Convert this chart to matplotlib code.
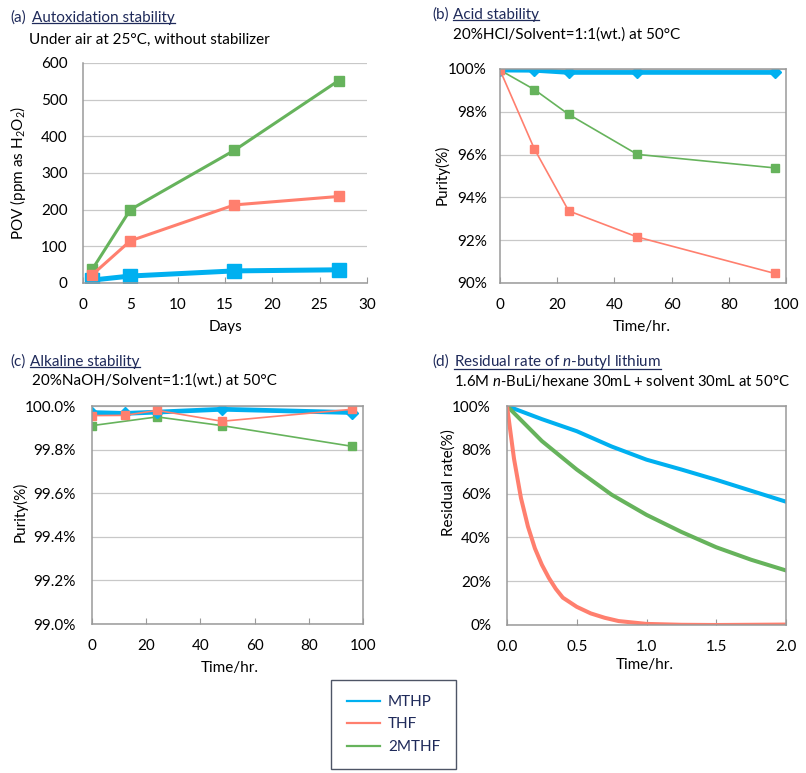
import matplotlib
matplotlib.use("Agg")
import matplotlib.pyplot as plt
from matplotlib.lines import Line2D
from matplotlib.ticker import PercentFormatter, MultipleLocator

plt.rcParams.update({
    "font.family": ["Lato", "DejaVu Sans"],
    "font.size": 10.5,
    "mathtext.fontset": "custom",
    "mathtext.rm": "Lato",
    "mathtext.it": "Lato:italic",
    "mathtext.bf": "Lato:bold",
})

W, H = 806, 773
NAVY = "#1F2A5A"
BLUE = "#00B0F0"
RED = "#FF7F6E"
GREEN = "#66B35C"
GRID = "#C8C8C8"
SPINE = "#9A9A9A"

# (a) autoxidation, POV in ppm
days = [1, 5, 16, 27]
pov_mthp = [8, 19, 33, 36]
pov_thf = [23, 115, 213, 236]
pov_2mthf = [38, 200, 362, 552]

# (b) acid stability, purity %
acid_t = [0, 12, 24, 48, 96]
acid_mthp = [99.95, 99.94, 99.84, 99.84, 99.84]
acid_thf = [99.95, 96.27, 93.37, 92.15, 90.45]
acid_2mthf = [99.95, 99.04, 97.88, 96.01, 95.38]

# (c) alkaline stability, purity %
alk_t = [0, 12, 24, 48, 96]
alk_mthp = [99.970, 99.966, 99.972, 99.985, 99.970]
alk_thf = [99.956, 99.957, 99.980, 99.930, 99.985]
alk_2mthf_t = [0, 24, 48, 96]
alk_2mthf = [99.910, 99.950, 99.910, 99.815]

# (d) residual rate of n-BuLi, %
bu_t = [0, 0.25, 0.5, 0.75, 1.0, 1.25, 1.5, 1.75, 2.0]
bu_mthp = [100, 94, 88.5, 81.5, 75.5, 71, 66.3, 61.3, 56.3]
bu_2mthf = [100, 84, 71, 59.5, 50.3, 42.5, 35.5, 29.8, 24.9]
bu_thf_t = [0, 0.05, 0.1, 0.15, 0.2, 0.25, 0.3, 0.35, 0.4, 0.5, 0.6, 0.7, 0.8, 1.0, 1.25, 1.5, 2.0]
bu_thf = [100, 76, 58, 45, 35, 27.5, 21.5, 16.5, 12.5, 8.3, 5.3, 3.3, 1.8, 0.5, 0.1, 0.0, 0.2]

fig = plt.figure(figsize=(W / 100, H / 100), dpi=100)


def add_axes(left, top, right, bottom):
    return fig.add_axes([left / W, 1 - bottom / H, (right - left) / W, (bottom - top) / H])


def style(ax, ypad, xpad=11, right_spine=True):
    ax.grid(axis="y", color=GRID, lw=0.9)
    ax.set_axisbelow(True)
    for s in ax.spines.values():
        s.set_color(SPINE)
        s.set_linewidth(1.1)
    if not right_spine:
        ax.spines["right"].set_visible(False)
        ax.spines["top"].set_visible(False)
    ax.tick_params(axis="y", length=0, pad=ypad, labelsize=11)
    ax.tick_params(axis="x", direction="in", length=4, color=SPINE, pad=xpad, labelsize=11)


def ftext(x, y, s, **kw):
    return fig.text(x / W, 1 - y / H, s, **kw)


titles = []


def title(x_pre, x_main, y, prefix, main):
    ftext(x_pre, y, prefix, color=NAVY, fontsize=11, va="center")
    t = ftext(x_main, y, main, color=NAVY, fontsize=11, va="center")
    titles.append(t)


# (a)
ax = add_axes(83, 63, 367, 283)
ax.plot(days, pov_2mthf, color=GREEN, lw=2.2, marker="s", ms=6.5)
ax.plot(days, pov_mthp, color=BLUE, lw=3.6, marker="s", ms=10)
ax.plot(days, pov_thf, color=RED, lw=2.2, marker="s", ms=6.5)
ax.set_xlim(0, 30)
ax.set_ylim(0, 600)
ax.yaxis.set_major_locator(MultipleLocator(100))
ax.xaxis.set_major_locator(MultipleLocator(5))
style(ax, ypad=11, right_spine=False)
title(10, 32, 18, "(a)", "Autoxidation stability")
ftext(29, 40, "Under air at 25°C, without stabilizer", fontsize=11, va="center")
ftext(18, 173, "POV (ppm as H$_2$O$_2$)", rotation=90, ha="center", va="center", fontsize=11)
ftext(225, 327, "Days", ha="center", va="center", fontsize=11)

# (b)
ax = add_axes(500, 69, 786, 283)
ax.plot(acid_t, acid_2mthf, color=GREEN, lw=1.2, marker="s", ms=6)
ax.plot(acid_t, acid_mthp, color=BLUE, lw=3.4, marker="D", ms=6.5)
ax.plot(acid_t, acid_thf, color=RED, lw=1.2, marker="s", ms=6)
ax.set_xlim(0, 100)
ax.set_ylim(90, 100)
ax.yaxis.set_major_locator(MultipleLocator(2))
ax.yaxis.set_major_formatter(PercentFormatter(decimals=0))
ax.xaxis.set_major_locator(MultipleLocator(20))
style(ax, ypad=9.5)
title(432, 453, 15, "(b)", "Acid stability")
ftext(453, 35, "20%HCl/Solvent=1:1(wt.) at 50°C", fontsize=11, va="center")
ftext(442, 175, "Purity(%)", rotation=90, ha="center", va="center", fontsize=11)
ftext(642, 327, "Time/hr.", ha="center", va="center", fontsize=11)

# (c)
ax = add_axes(92, 406, 363, 624)
ax.plot(alk_2mthf_t, alk_2mthf, color=GREEN, lw=1.2, marker="s", ms=6)
ax.plot(alk_t, alk_mthp, color=BLUE, lw=3.4, marker="D", ms=6.5)
ax.plot(alk_t, alk_thf, color=RED, lw=1.2, marker="s", ms=6)
ax.set_xlim(0, 100)
ax.set_ylim(99.0, 100.0)
ax.yaxis.set_major_locator(MultipleLocator(0.2))
ax.yaxis.set_major_formatter(PercentFormatter(decimals=1))
ax.xaxis.set_major_locator(MultipleLocator(20))
style(ax, ypad=11.5)
title(10, 30, 362, "(c)", "Alkaline stability")
ftext(32, 381, "20%NaOH/Solvent=1:1(wt.) at 50°C", fontsize=11, va="center")
ftext(20, 512, "Purity(%)", rotation=90, ha="center", va="center", fontsize=11)
ftext(230, 668, "Time/hr.", ha="center", va="center", fontsize=11)

# (d)
ax = add_axes(507, 406, 786, 625)
ax.plot(bu_t, bu_mthp, color=BLUE, lw=2.9)
ax.plot(bu_t, bu_2mthf, color=GREEN, lw=2.9)
ax.plot(bu_thf_t, bu_thf, color=RED, lw=2.9)
ax.set_xlim(0, 2)
ax.set_ylim(0, 100)
ax.yaxis.set_major_locator(MultipleLocator(20))
ax.yaxis.set_major_formatter(PercentFormatter(decimals=0))
ax.xaxis.set_major_locator(MultipleLocator(0.5))
ax.xaxis.set_major_formatter(lambda v, p: f"{v:.1f}")
style(ax, ypad=11.5)
title(432, 454, 362, "(d)", "Residual rate of $n$-butyl lithium")
ftext(454, 381, "1.6M $n$-BuLi/hexane 30mL + solvent 30mL at 50°C", fontsize=10.7, va="center")
ftext(449, 483, "Residual rate(%)", rotation=90, ha="center", va="center", fontsize=11)
ftext(645, 665, "Time/hr.", ha="center", va="center", fontsize=11)

# legend
handles = [Line2D([], [], color=BLUE, lw=1.6),
           Line2D([], [], color=RED, lw=1.6),
           Line2D([], [], color=GREEN, lw=1.6)]
leg = fig.legend(handles, ["MTHP", "THF", "2MTHF"], loc="center",
                 bbox_to_anchor=(393.5 / W, 1 - 724.5 / H), fancybox=False,
                 edgecolor="#222A40", fontsize=11, handlelength=2.2,
                 borderpad=1.0, labelspacing=0.55, handletextpad=0.5, borderaxespad=0)
leg.get_frame().set_linewidth(1.0)
for txt in leg.get_texts():
    txt.set_color(NAVY)

# underline the title texts
fig.canvas.draw()
renderer = fig.canvas.get_renderer()
for t in titles:
    bb = t.get_window_extent(renderer)
    y = (bb.y0 + 2) / H
    fig.add_artist(Line2D([bb.x0 / W, bb.x1 / W], [y, y], color=NAVY, lw=0.9))

fig.savefig("out.png", dpi=100)
